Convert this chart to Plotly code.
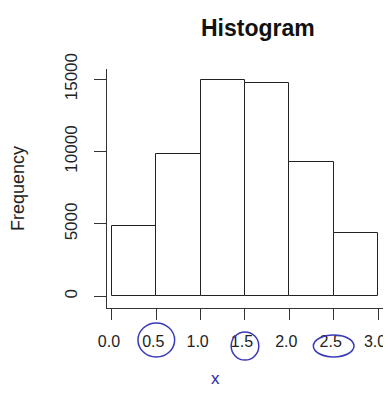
import plotly.graph_objects as go

bin_edges = [0.0, 0.5, 1.0, 1.5, 2.0, 2.5, 3.0]
frequencies = [4850, 9800, 14950, 14700, 9300, 4350]
y_ticks = [0, 5000, 10000, 15000]
y_tick_labels = ["0", "5000", "10000", "15000"]
x_ticks = [0.0, 0.5, 1.0, 1.5, 2.0, 2.5, 3.0]
x_tick_labels = ["0.0", "0.5", "1.0", "1.5", "2.0", "2.5", "3.0"]
circled_ticks = [0.5, 1.5, 2.5]

mids = [(a + b) / 2 for a, b in zip(bin_edges[:-1], bin_edges[1:])]
widths = [b - a for a, b in zip(bin_edges[:-1], bin_edges[1:])]

XR = [-0.056, 3.124]
YR = [-800, 15700]


def xp(v):
    return (v - XR[0]) / (XR[1] - XR[0])


fig = go.Figure(go.Bar(
    x=mids, y=frequencies, width=widths,
    marker=dict(color="white", line=dict(color="#222", width=1)),
))

shapes = []
# (rx, ry, cy) in paper units for each hand-drawn circle
sizes = {0.5: (0.065, 0.071, -0.134), 1.5: (0.049, 0.059, -0.159), 2.5: (0.072, 0.046, -0.159)}
for v in circled_ticks:
    rx, ry, cy = sizes[v]
    shapes.append(dict(type="circle", xref="paper", yref="paper",
                       x0=xp(v) - rx, x1=xp(v) + rx, y0=cy - ry, y1=cy + ry,
                       line=dict(color="#3a3ab8", width=1.5)))

H = 389
fig.update_layout(
    width=383, height=H,
    margin=dict(l=99, r=2, t=61, b=H - 300, autoexpand=False),
    paper_bgcolor="white", plot_bgcolor="white",
    font=dict(family="Liberation Sans, Arial", color="#222", size=16),
    title=dict(text="<b>Histogram</b>", xref="paper", x=0.535, xanchor="center",
               yref="container", y=1 - 20 / H, yanchor="middle",
               font=dict(size=23, color="#111")),
    showlegend=False,
    bargap=0,
    shapes=shapes,
    xaxis=dict(range=XR, tickvals=x_ticks, ticktext=x_tick_labels,
               ticks="outside", ticklen=11, tickcolor="#333",
               showline=True, linecolor="#333", linewidth=1,
               showgrid=False, zeroline=False,
               ticklabelstandoff=8, ticklabelshift=-3,
               automargin=False, tickfont=dict(size=16)),
    yaxis=dict(range=YR, tickvals=y_ticks, ticktext=y_tick_labels,
               tickangle=-90,
               ticks="outside", ticklen=12, tickcolor="#333",
               showline=True, linecolor="#333", linewidth=1,
               showgrid=False, zeroline=False,
               ticklabelstandoff=10, automargin=False, tickfont=dict(size=17),
               title=dict(text="Frequency", font=dict(size=18), standoff=32)),
    annotations=[dict(text="x", xref="paper", yref="paper", x=(215 - 107) / 282, y=-0.345,
                      showarrow=False, font=dict(size=17, color="#2a2aa8"))],
)

fig.write_html("out.html")
